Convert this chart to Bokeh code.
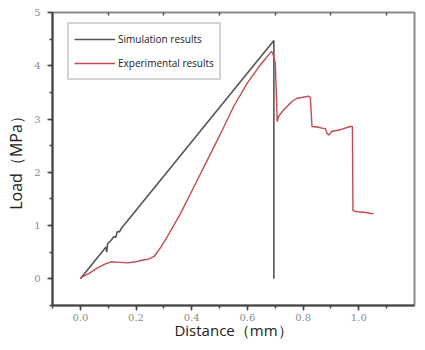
from bokeh.plotting import figure
from bokeh.models import (Range1d, SingleIntervalTicker, FixedTicker, LinearAxis,
                          Legend, LegendItem, PrintfTickFormatter)
from bokeh.embed import file_html
from bokeh.resources import INLINE

# ---- data ----
sim_x = [0.0, 0.085, 0.092, 0.095, 0.098, 0.11, 0.12, 0.127, 0.133, 0.14, 0.15, 0.16, 0.695, 0.695]
sim_y = [0.0, 0.55, 0.60, 0.50, 0.66, 0.72, 0.79, 0.78, 0.89, 0.88, 0.97, 1.03, 4.475, 0.0]

exp_x = [0.0, 0.03, 0.06, 0.09, 0.11, 0.14, 0.17, 0.20, 0.22, 0.245, 0.265, 0.29, 0.312,
         0.36, 0.408, 0.456, 0.504, 0.551, 0.599, 0.647, 0.677,
         0.686, 0.692, 0.697, 0.700, 0.703, 0.707, 0.712, 0.73, 0.76, 0.778, 0.80, 0.82,
         0.826, 0.832, 0.85, 0.868, 0.88, 0.886, 0.892, 0.904, 0.934, 0.97, 0.977,
         0.979, 0.994, 1.02, 1.053]
exp_y = [0.02, 0.10, 0.20, 0.28, 0.32, 0.31, 0.30, 0.32, 0.35, 0.37, 0.42, 0.60, 0.79,
         1.23, 1.73, 2.23, 2.73, 3.24, 3.67, 4.02, 4.21,
         4.27, 4.22, 4.10, 4.06, 3.60, 2.95, 3.05, 3.17, 3.33, 3.39, 3.41, 3.43,
         3.40, 2.86, 2.85, 2.83, 2.82, 2.73, 2.70, 2.77, 2.80, 2.86, 2.86,
         1.28, 1.26, 1.25, 1.22]

series_names = ["Simulation results", "Experimental results"]
x_title = "Distance（mm）"
y_title = "Load（MPa）"
top_ticks = [0.1, 0.3, 0.5, 0.7, 0.9, 1.1]

# ---- figure ----
p = figure(width=417, height=342, output_backend="svg", toolbar_location=None,
           x_range=Range1d(-0.1, 1.2), y_range=Range1d(-0.5, 5.0),
           min_border_left=52, min_border_top=12, min_border_right=3, min_border_bottom=37)
p.background_fill_color = "white"
p.border_fill_color = "white"
p.xgrid.visible = False
p.ygrid.visible = False
p.outline_line_color = "#8a8a8a"
p.outline_line_width = 2

tick_font = "DejaVu Serif"
xa = p.xaxis[0]
xa.ticker = SingleIntervalTicker(interval=0.2, num_minor_ticks=2)
xa.formatter = PrintfTickFormatter(format="%.1f")
ya = p.yaxis[0]
ya.ticker = SingleIntervalTicker(interval=1, num_minor_ticks=2)
ya.formatter = PrintfTickFormatter(format="%d")
for ax in (xa, ya):
    ax.axis_line_color = "#444444"
    ax.axis_line_width = 2
    ax.major_tick_line_color = "#444444"
    ax.minor_tick_line_color = "#444444"
    ax.major_tick_line_width = 1.5
    ax.minor_tick_line_width = 1.5
    ax.major_tick_in = 0
    ax.major_tick_out = 5
    ax.minor_tick_in = 0
    ax.minor_tick_out = 3
    ax.major_label_text_font = tick_font
    ax.major_label_text_font_size = "10px"
    ax.major_label_text_color = "#8a8a8a"
    ax.axis_label_text_font = "Open Sans"
    ax.axis_label_text_font_style = "normal"
    ax.axis_label_text_color = "#222222"
xa.major_label_standoff = 3
ya.major_label_standoff = 7
xa.axis_label = x_title
ya.axis_label = y_title
xa.axis_label_text_font_size = "15px"
ya.axis_label_text_font_size = "16px"
xa.axis_label_standoff = -4
ya.axis_label_standoff = 4

top = LinearAxis(ticker=FixedTicker(ticks=[], minor_ticks=top_ticks), axis_line_color=None,
                 minor_tick_in=3, minor_tick_out=0, minor_tick_line_color="#555555",
                 minor_tick_line_width=1.5, major_tick_line_color=None)
p.add_layout(top, "above")

r_sim = p.line(sim_x, sim_y, line_color="#555555", line_width=1.6)
r_exp = p.line(exp_x, exp_y, line_color="#c24a50", line_width=1.4)

legend = Legend(items=[LegendItem(label=series_names[0], renderers=[r_sim]),
                       LegendItem(label=series_names[1], renderers=[r_exp])],
                location=(15, 225), glyph_width=41, glyph_height=20, label_standoff=3,
                padding=5, spacing=4, margin=0,
                label_text_font="Open Sans", label_text_font_size="10px",
                label_text_color="#222222",
                border_line_color="#aaaaaa", border_line_width=2,
                background_fill_color="white")
p.add_layout(legend, "center")

open("out.html", "w").write(file_html(p, INLINE))
